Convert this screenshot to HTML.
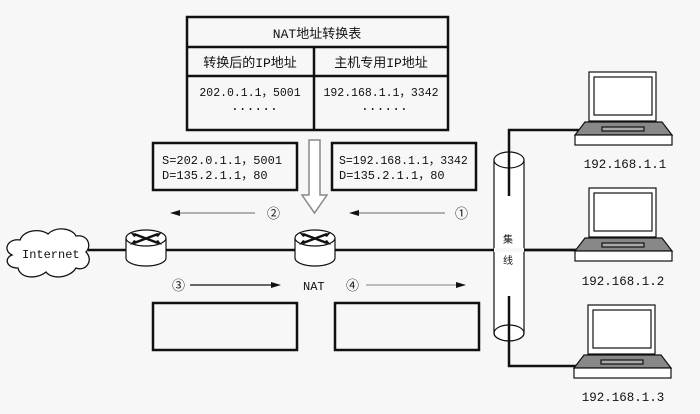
<!DOCTYPE html>
<html><head><meta charset="utf-8"><style>
body{margin:0;background:#f7f7f7;}
text{font-family:"Liberation Mono","Noto Sans CJK SC",monospace;fill:#111;}
</style></head><body>
<svg width="700" height="409" viewBox="0 0 700 409" xmlns="http://www.w3.org/2000/svg">
<rect width="700" height="409" fill="#f7f7f7"/>
<g fill="none" stroke="#111" stroke-width="2.5">
<rect x="187" y="17" width="261" height="113"/>
<line x1="187" y1="47" x2="448" y2="47"/>
<line x1="187" y1="76" x2="448" y2="76"/>
<line x1="314" y1="47" x2="314" y2="130"/>
</g>
<text x="317" y="38" font-size="13" text-anchor="middle">NAT地址转换表</text>
<text x="250" y="67" font-size="13" text-anchor="middle">转换后的IP地址</text>
<text x="381" y="67" font-size="13" text-anchor="middle">主机专用IP地址</text>
<text x="250" y="96" font-size="11.5" text-anchor="middle">202.0.1.1，5001</text>
<text x="381" y="96" font-size="11.5" text-anchor="middle">192.168.1.1，3342</text>
<text x="231" y="110" font-size="13">......</text>
<text x="361" y="110" font-size="13">......</text>
<g fill="none" stroke="#111" stroke-width="2.5">
<rect x="153" y="143" width="144" height="47"/>
<rect x="332" y="143" width="144" height="47"/>
<rect x="153" y="303" width="144" height="47"/>
<rect x="335" y="303" width="144" height="47"/>
</g>
<text x="162" y="164" font-size="12">S=202.0.1.1，5001</text>
<text x="162" y="179" font-size="12">D=135.2.1.1，80</text>
<text x="339" y="164" font-size="11.5">S=192.168.1.1，3342</text>
<text x="339" y="179" font-size="12">D=135.2.1.1，80</text>
<path d="M309 140 H320 V195 H327 L314.5 213 L302 195 H309 Z" fill="#fff" stroke="#888" stroke-width="1.5"/>
<line x1="178" y1="213" x2="255" y2="213" stroke="#999" stroke-width="1.5"/>
<path d="M170 213 L180 210 L180 216 Z" fill="#111"/>
<text x="267" y="218" font-size="13">②</text>
<line x1="358" y1="213" x2="445" y2="213" stroke="#999" stroke-width="1.5"/>
<path d="M349 213 L359 210 L359 216 Z" fill="#111"/>
<text x="455" y="218" font-size="13">①</text>
<text x="172" y="290" font-size="13">③</text>
<line x1="190" y1="285" x2="272" y2="285" stroke="#111" stroke-width="1.2"/>
<path d="M281 285 L271 282 L271 288 Z" fill="#111"/>
<text x="303" y="290" font-size="12">NAT</text>
<text x="346" y="290" font-size="13">④</text>
<line x1="366" y1="285" x2="457" y2="285" stroke="#999" stroke-width="1.2"/>
<path d="M466 285 L456 282 L456 288 Z" fill="#111"/>
<line x1="88" y1="250" x2="590" y2="250" stroke="#111" stroke-width="2.5"/>
<path d="M12 255 C2 250 8 238 20 240 C24 230 40 228 48 234 C56 226 72 228 76 236 C88 234 92 246 86 252 C94 260 86 272 76 268 C70 278 52 280 46 272 C36 280 20 278 18 268 C6 268 4 258 12 255 Z" fill="#fff" stroke="#111" stroke-width="1.3"/>
<text x="22" y="258" font-size="12">Internet</text>
<g id="r">
<path d="M126 238 V258 A20 8 0 0 0 166 258 V238" fill="#fff" stroke="#111" stroke-width="1.2"/>
<ellipse cx="146" cy="238" rx="20" ry="8" fill="#fff" stroke="#111" stroke-width="1.2"/>
<path d="M134 234 L158 243 M134 243 L158 234" stroke="#111" stroke-width="2.5"/>
<path d="M130 232 L138 235 L134 237Z M162 245 L154 242 L158 240Z M162 232 L154 235 L158 237Z M130 245 L138 242 L134 240Z" fill="#111"/>
</g>
<use href="#r" x="169"/>
<path d="M494 160 V333 A15 8 0 0 0 524 333 V160" fill="#fff" stroke="#111" stroke-width="1.2"/>
<ellipse cx="509" cy="160" rx="15" ry="8" fill="#fff" stroke="#111" stroke-width="1.2"/>
<ellipse cx="509" cy="333" rx="15" ry="8" fill="none" stroke="#111" stroke-width="1.2"/>
<line x1="494" y1="250" x2="524" y2="250" stroke="#f7f7f7" stroke-width="4"/>
<text x="503" y="243" font-size="10" fill="#444">集</text>
<text x="503" y="264" font-size="10" fill="#444">线</text>
<polyline points="509,196 509,130 585,130" fill="none" stroke="#111" stroke-width="2.5"/>
<polyline points="509,296 509,366 585,366" fill="none" stroke="#111" stroke-width="2.5"/>
<line x1="524" y1="250" x2="590" y2="250" stroke="#111" stroke-width="2.5"/>
<g id="lp" fill="#fff" stroke="#111" stroke-width="1.2">
<rect x="589" y="72" width="67" height="49"/>
<rect x="594" y="77" width="58" height="38"/>
<path d="M585 122 H662 L672 135 H575 Z" fill="#888"/>
<rect x="575" y="135" width="97" height="10"/>
<rect x="602" y="127" width="42" height="4" fill="#aaa"/>
</g>
<use href="#lp" y="116"/>
<use href="#lp" x="-1" y="233"/>
<text x="625" y="168" font-size="12.5" text-anchor="middle">192.168.1.1</text>
<text x="623" y="285" font-size="12.5" text-anchor="middle">192.168.1.2</text>
<text x="623" y="401" font-size="12.5" text-anchor="middle">192.168.1.3</text>
</svg>
</body></html>
